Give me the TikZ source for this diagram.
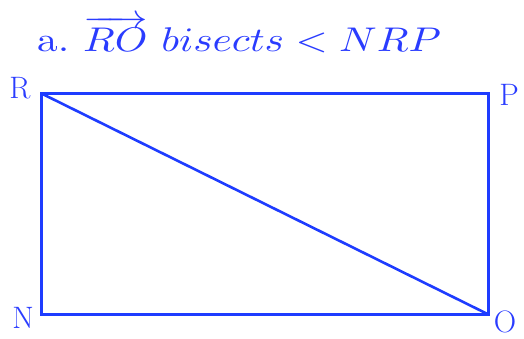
\documentclass[tikz,border=0pt]{standalone}
\usepackage{fontspec}
\usepackage{amsmath}

\begin{document}
\begin{tikzpicture}[x=1pt,y=-1pt]
    % Define colours
    \definecolor{lineColour}{HTML}{1E3CFF}
    \definecolor{textColour}{HTML}{2A3CFF}

    \tikzset{
      side/.style={draw=lineColour, line width=2.6pt, line cap=round, line join=miter},
      vertex/.style={text=textColour, font=\fontsize{31}{32}\selectfont, inner sep=0pt}
    }

  \useasboundingbox (0,0) rectangle (524,339);

  % Corners of the rectangle
  \coordinate (R) at (41.5,93.5);
  \coordinate (P) at (488.5,93.5);
  \coordinate (O) at (488.5,314.5);
  \coordinate (N) at (41.5,314.5);

  % Draw the rectangle and the diagonal
  \draw[side] (R) -- (P) -- (O) -- (N) -- cycle;
  \draw[side] (R) -- (O);

  % Label the corners
  \node[vertex] (labR) at (20,88) {R};
  \node[vertex] (labP) at (509,95) {P};
  \node[vertex] (labN) at (23,318) {N};
  \node[vertex] (labO) at (505,322) {O};

  % Title
  \node[text=textColour, anchor=base west, inner sep=0pt]
    (title) at (37,52) {\resizebox{404pt}{36pt}{a.\ $\overrightarrow{RO}\ bisects < NRP$}};

\end{tikzpicture}
\end{document}
